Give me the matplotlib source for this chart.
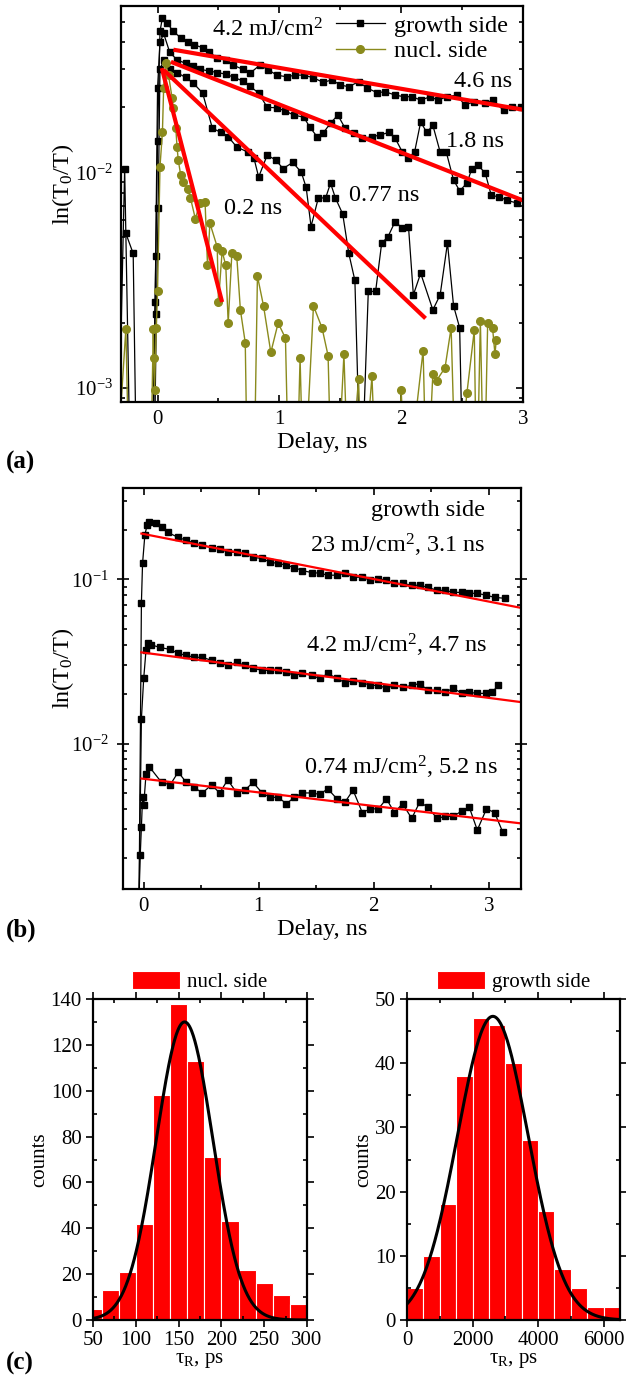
import numpy as np
import matplotlib
matplotlib.use('Agg')
import matplotlib.pyplot as plt
from matplotlib.ticker import MultipleLocator, NullFormatter

plt.rcParams['font.family'] = 'Liberation Serif'
plt.rcParams['mathtext.fontset'] = 'custom'
plt.rcParams['mathtext.rm'] = 'Liberation Serif'
plt.rcParams['mathtext.it'] = 'Liberation Serif:italic'
plt.rcParams['mathtext.bf'] = 'Liberation Serif:bold'

# ---------------- panel (a): 4.2 mJ/cm2, growth side (3 spots) and nucl. side
g1_t = [-0.33, -0.27, -0.22, -0.05, -0.02, 0.0, 0.02, 0.04, 0.08, 0.13, 0.19, 0.25, 0.3, 0.37, 0.42,
        0.49, 0.56, 0.62, 0.7, 0.76, 0.84, 0.91, 0.98, 1.06, 1.13, 1.2, 1.28, 1.36, 1.43, 1.5, 1.57,
        1.65, 1.72, 1.8, 1.87, 1.95, 2.02, 2.09, 2.16, 2.24, 2.3, 2.38, 2.46, 2.52, 2.6, 2.69, 2.75,
        2.84, 2.91, 2.98]
g1_y = [0.0003, 0.0104, 0.0003, 0.0003, 0.0025, 0.014, 0.045, 0.052, 0.049, 0.045, 0.042, 0.040,
        0.039, 0.0378, 0.036, 0.034, 0.033, 0.0314, 0.030, 0.0288, 0.0314, 0.0298, 0.0282, 0.0277,
        0.0282, 0.0282, 0.0274, 0.0261, 0.0268, 0.0254, 0.0249, 0.0263, 0.0246, 0.0234, 0.0236,
        0.0228, 0.0224, 0.0224, 0.0216, 0.0224, 0.0216, 0.0224, 0.0228, 0.0205, 0.0212, 0.0209,
        0.0216, 0.0194, 0.0200, 0.0200]

g2_t = [-0.26, -0.2, -0.17, -0.04, -0.015, 0.0, 0.02, 0.05, 0.1, 0.16, 0.23, 0.29, 0.35, 0.42, 0.49,
        0.56, 0.63, 0.7, 0.76, 0.83, 0.9, 0.98, 1.05, 1.12, 1.2, 1.25, 1.31, 1.36, 1.42, 1.48, 1.54,
        1.61, 1.68, 1.76, 1.83, 1.9, 1.95, 2.01, 2.06, 2.11, 2.16, 2.21, 2.26, 2.32, 2.37, 2.43, 2.48,
        2.54, 2.58, 2.63, 2.69, 2.74, 2.8, 2.87, 2.95]
g2_y = [0.0052, 0.0042, 0.0003, 0.0003, 0.0041, 0.0245, 0.040, 0.044, 0.036, 0.0332, 0.032, 0.031,
        0.030, 0.0295, 0.029, 0.0285, 0.0275, 0.0265, 0.025, 0.0233, 0.020, 0.0199, 0.0192, 0.0184,
        0.018, 0.0162, 0.0146, 0.0152, 0.0169, 0.0184, 0.016, 0.0152, 0.0144, 0.0146, 0.0149, 0.0153,
        0.0144, 0.0124, 0.0117, 0.0124, 0.0171, 0.0153, 0.0165, 0.0124, 0.0124, 0.0092, 0.0082,
        0.0089, 0.0104, 0.0108, 0.0099, 0.0078, 0.0077, 0.0074, 0.0072]

g3_t = [-0.03, -0.01, 0.005, 0.02, 0.05, 0.1, 0.16, 0.23, 0.29, 0.37, 0.45, 0.52, 0.58, 0.65, 0.74,
        0.79, 0.83, 0.9, 0.97, 1.03, 1.11, 1.18, 1.22, 1.26, 1.32, 1.38, 1.42, 1.46, 1.52, 1.57, 1.62,
        1.67, 1.73, 1.79, 1.84, 1.89, 1.95, 2.01, 2.06, 2.1, 2.16, 2.26, 2.32, 2.38, 2.43, 2.48, 2.51]
g3_y = [0.0003, 0.0022, 0.0068, 0.030, 0.033, 0.030, 0.029, 0.0275, 0.026, 0.0233, 0.016, 0.0153,
        0.0146, 0.0131, 0.0124, 0.0117, 0.0095, 0.012, 0.0114, 0.0104, 0.0111, 0.010, 0.0085, 0.0056,
        0.0076, 0.0076, 0.0089, 0.0076, 0.0064, 0.0042, 0.00315, 0.0003, 0.0028, 0.0028, 0.0047,
        0.0050, 0.0059, 0.0055, 0.0056, 0.0027, 0.0034, 0.0023, 0.0027, 0.0047, 0.0024, 0.0019, 0.0003]

nucl_t = [-0.35, -0.26, -0.23, -0.06, -0.035, -0.03, -0.025, -0.01, 0.0, 0.02, 0.04, 0.05, 0.066,
          0.09, 0.12, 0.13, 0.15, 0.16, 0.17, 0.19, 0.21, 0.25, 0.27, 0.31, 0.35, 0.39, 0.41, 0.43,
          0.49, 0.5, 0.53, 0.56, 0.58, 0.61, 0.65, 0.68, 0.72, 0.74, 0.79, 0.82, 0.87, 0.93, 0.99,
          1.05, 1.08, 1.14, 1.17, 1.2, 1.28, 1.35, 1.4, 1.43, 1.47, 1.53, 1.57, 1.65, 1.68, 1.76,
          1.8, 1.97, 2.0, 2.04, 2.18, 2.21, 2.26, 2.29, 2.36, 2.41, 2.45, 2.54, 2.6, 2.62, 2.65,
          2.68, 2.71, 2.75, 2.77, 2.78]
nucl_y = [0.0003, 0.00188, 0.0003, 0.0003, 0.00188, 0.00137, 0.00098, 0.0019, 0.0028, 0.0106,
          0.0153, 0.0245, 0.032, 0.0282, 0.022, 0.0199, 0.016, 0.0131, 0.0114, 0.0097, 0.0090,
          0.0084, 0.0076, 0.0061, 0.0072, 0.0073, 0.0037, 0.0058, 0.0045, 0.0025, 0.0043, 0.0037,
          0.0020, 0.0042, 0.0041, 0.0023, 0.00162, 0.0003, 0.0003, 0.0033, 0.0024, 0.00146, 0.0020,
          0.0017, 0.0003, 0.0003, 0.00138, 0.0003, 0.0024, 0.0019, 0.00141, 0.0003, 0.0003, 0.00143,
          0.0003, 0.0011, 0.0003, 0.00113, 0.0003, 0.0003, 0.00098, 0.0003, 0.00149, 0.0003, 0.00116,
          0.00108, 0.00124, 0.0019, 0.0003, 0.00095, 0.00185, 0.0003, 0.00205, 0.0003, 0.0020,
          0.0019, 0.00143, 0.00166]

# exponential fits (start / end of the drawn lines)
fit_a_labels = ['4.6 ns', '1.8 ns', '0.77 ns', '0.2 ns']
fit_a_t = [(0.13, 3.0), (0.11, 3.0), (0.05, 2.2), (0.035, 0.53)]
fit_a_y = [(0.037, 0.0195), (0.0325, 0.0074), (0.0298, 0.0021), (0.0304, 0.0025)]
fit_a_text_pos = [(2.67, 0.0263), (2.61, 0.0139), (1.86, 0.0078), (0.78, 0.0068)]

# ---------------- panel (b): growth side, three fluences
b_top_t = [-0.04, -0.02, -0.01, 0.01, 0.03, 0.05, 0.11, 0.16, 0.21, 0.3, 0.37, 0.44, 0.51, 0.59,
           0.66, 0.73, 0.81, 0.88, 0.95, 1.03, 1.1, 1.17, 1.24, 1.31, 1.38, 1.46, 1.53, 1.6, 1.68,
           1.75, 1.82, 1.9, 1.97, 2.04, 2.11, 2.18, 2.25, 2.33, 2.4, 2.47, 2.55, 2.62, 2.69, 2.77,
           2.83, 2.9, 2.98, 3.05, 3.14]
b_top_y = [0.0012, 0.072, 0.125, 0.186, 0.215, 0.223, 0.22, 0.207, 0.193, 0.18, 0.173, 0.166,
           0.161, 0.156, 0.154, 0.146, 0.146, 0.144, 0.136, 0.134, 0.127, 0.125, 0.122, 0.118,
           0.113, 0.110, 0.109, 0.106, 0.106, 0.109, 0.103, 0.103, 0.0986, 0.101, 0.0986, 0.0945,
           0.0945, 0.092, 0.092, 0.0894, 0.0857, 0.0857, 0.0833, 0.0833, 0.0822, 0.0822, 0.0799,
           0.0777, 0.0766]

b_mid_t = [-0.04, -0.02, 0.0, 0.02, 0.035, 0.06, 0.14, 0.23, 0.3, 0.37, 0.44, 0.51, 0.59, 0.66,
           0.73, 0.81, 0.88, 0.95, 1.03, 1.1, 1.17, 1.24, 1.31, 1.38, 1.46, 1.53, 1.6, 1.68, 1.75,
           1.82, 1.9, 1.97, 2.04, 2.11, 2.18, 2.25, 2.33, 2.4, 2.47, 2.55, 2.62, 2.69, 2.77, 2.83,
           2.9, 2.98, 3.03, 3.08]
b_mid_y = [0.0012, 0.0142, 0.0249, 0.037, 0.041, 0.040, 0.0385, 0.0374, 0.0354, 0.0344, 0.0335,
           0.0335, 0.0321, 0.0308, 0.0299, 0.0312, 0.0299, 0.0287, 0.0279, 0.0279, 0.0279, 0.0271,
           0.0260, 0.0267, 0.0260, 0.0249, 0.0267, 0.0249, 0.0235, 0.0242, 0.0235, 0.0226, 0.0226,
           0.0217, 0.0226, 0.022, 0.0226, 0.0232, 0.0211, 0.0211, 0.0205, 0.0217, 0.0202, 0.0205,
           0.0202, 0.0202, 0.0205, 0.0226]

b_low_t = [-0.04, -0.03, -0.02, -0.01, 0.0, 0.02, 0.05, 0.155, 0.23, 0.3, 0.37, 0.44, 0.51, 0.59,
           0.66, 0.73, 0.81, 0.88, 0.95, 1.03, 1.1, 1.17, 1.24, 1.31, 1.38, 1.46, 1.53, 1.6, 1.68,
           1.75, 1.82, 1.9, 1.97, 2.04, 2.11, 2.18, 2.25, 2.33, 2.4, 2.47, 2.55, 2.62, 2.69, 2.77,
           2.83, 2.9, 2.98, 3.05, 3.12]
b_low_y = [0.0012, 0.0021, 0.0031, 0.0047, 0.0042, 0.0065, 0.0072, 0.0058, 0.0056, 0.0067, 0.0058,
           0.0054, 0.0050, 0.0056, 0.0050, 0.0060, 0.0050, 0.0052, 0.0058, 0.0050, 0.0047, 0.0047,
           0.0043, 0.0047, 0.0050, 0.0050, 0.0049, 0.0053, 0.0046, 0.0044, 0.0052, 0.0038, 0.0040,
           0.0040, 0.0046, 0.0038, 0.0043, 0.0035, 0.0044, 0.0041, 0.0035, 0.0036, 0.0036, 0.0039,
           0.0041, 0.00297, 0.0040, 0.0038, 0.0029]

fit_b_t = (-0.02, 3.3)
fit_b_y = [(0.19, 0.0666), (0.0359, 0.0178), (0.00612, 0.00325)]
b_labels = ['23 mJ/cm$^2$, 3.1 ns', '4.2 mJ/cm$^2$, 4.7 ns', '0.74 mJ/cm$^2$, 5.2 ns']
b_label_pos = [(2.97, 0.161), (2.99, 0.0396), (3.08, 0.00715)]

# ---------------- panel (c): histograms of tau_R
nucl_bin_left = [40, 60, 80, 100, 120, 140, 160, 180, 200, 220, 240, 260, 280]
nucl_counts = [5, 13, 21, 42, 98, 138, 113, 71, 43, 22, 16, 11, 7]
nucl_gauss = dict(xc=157, sigma=33, amp=130)

growth_bin_left = [0, 500, 1000, 1500, 2000, 2500, 3000, 3500, 4000, 4500, 5000, 5500, 6000]
growth_counts = [5, 10, 18, 38, 47, 46, 40, 28, 17, 8, 5, 2, 2]
growth_gauss = dict(xc=2620, sigma=1080, amp=47.3)

olive = '#8a8a1c'
FS_TXT = 17.5
FS_TICK = 15
W, H = 626, 1383
fig = plt.figure(figsize=(W / 100, H / 100), dpi=100)


def px_axes(l, r, t, b):
    return fig.add_axes([l / W, 1 - b / H, (r - l) / W, (b - t) / H])


def style(ax, fs):
    for s in ax.spines.values():
        s.set_linewidth(1.6)
    ax.tick_params(which='both', direction='in', top=True, right=True, labelsize=fs, width=1.2, pad=6)
    ax.tick_params(which='major', length=5)
    ax.tick_params(which='minor', length=3)


# ----- (a)
ax = px_axes(121, 523, 6, 402)
ax.set_yscale('log')
ax.plot(g1_t, g1_y, '-s', color='black', lw=0.9, ms=5, label='growth side')
ax.plot(g2_t, g2_y, '-s', color='black', lw=0.9, ms=5)
ax.plot(g3_t, g3_y, '-s', color='black', lw=0.9, ms=5)
ax.plot(nucl_t, nucl_y, '-o', color=olive, lw=1.0, ms=5.5, label='nucl. side')
for ft, fy in zip(fit_a_t, fit_a_y):
    ax.plot(ft, fy, color='red', lw=3, solid_capstyle='butt')
for lab, (tx, ty) in zip(fit_a_labels, fit_a_text_pos):
    ax.text(tx, ty, lab, ha='center', va='center', fontsize=FS_TXT)
ax.text(0.45, 0.0457, '4.2 mJ/cm$^2$', ha='left', va='center', fontsize=FS_TXT)
ax.set_xlim(-0.3, 3.0)
ax.set_ylim(0.00086, 0.059)
ax.xaxis.set_major_locator(MultipleLocator(1))
ax.xaxis.set_minor_locator(MultipleLocator(0.5))
ax.yaxis.set_minor_formatter(NullFormatter())
style(ax, FS_TICK)
ax.set_xlabel('Delay, ns', fontsize=FS_TXT, labelpad=2)
ax.set_ylabel('ln(T$_0$/T)', fontsize=FS_TXT)
ax.yaxis.set_label_coords(-0.113, 0.55)
ax.legend(loc='upper right', bbox_to_anchor=(1.0, 1.015), frameon=False, fontsize=FS_TXT,
          numpoints=1, handlelength=2.0, handletextpad=0.4, labelspacing=0.15, borderaxespad=0.2)

# ----- (b)
ax = px_axes(123, 521, 488, 889)
ax.set_yscale('log')
for bt, by in [(b_top_t, b_top_y), (b_mid_t, b_mid_y), (b_low_t, b_low_y)]:
    ax.plot(bt, by, '-s', color='black', lw=0.9, ms=4.5)
for fy in fit_b_y:
    ax.plot(fit_b_t, fy, color='red', lw=1.6)
ax.text(2.97, 0.264, 'growth side', ha='right', va='center', fontsize=FS_TXT)
for lab, (tx, ty) in zip(b_labels, b_label_pos):
    ax.text(tx, ty, lab, ha='right', va='center', fontsize=FS_TXT)
ax.set_xlim(-0.18, 3.28)
ax.set_ylim(0.0013, 0.36)
ax.xaxis.set_major_locator(MultipleLocator(1))
ax.xaxis.set_minor_locator(MultipleLocator(0.5))
ax.yaxis.set_minor_formatter(NullFormatter())
style(ax, FS_TICK)
ax.tick_params(axis='y', which='major', direction='inout', length=8)
ax.set_xlabel('Delay, ns', fontsize=FS_TXT, labelpad=2)
ax.set_ylabel('ln(T$_0$/T)', fontsize=FS_TXT)
ax.yaxis.set_label_coords(-0.118, 0.55)


# ----- (c)
def hist_panel(l, r, lefts, counts, width, g, label, xlim, ylim, xmaj, xmin, ymaj, ymin):
    ax = px_axes(l, r, 999, 1320)
    ax.bar(lefts, counts, width=width, align='edge', color='#ff0000', edgecolor='white',
           linewidth=0.8, label=label)
    xx = np.linspace(xlim[0], xlim[1], 400)
    ax.plot(xx, g['amp'] * np.exp(-(xx - g['xc']) ** 2 / (2 * g['sigma'] ** 2)), color='black', lw=2.2)
    ax.set_xlim(*xlim)
    ax.set_ylim(*ylim)
    ax.xaxis.set_major_locator(MultipleLocator(xmaj))
    ax.xaxis.set_minor_locator(MultipleLocator(xmin))
    ax.yaxis.set_major_locator(MultipleLocator(ymaj))
    ax.yaxis.set_minor_locator(MultipleLocator(ymin))
    style(ax, 15)
    ax.tick_params(which='major', direction='out', pad=3)
    ax.set_xlabel('τ$_\\mathrm{R}$, ps', fontsize=15, labelpad=1)
    ax.set_ylabel('counts', fontsize=15, labelpad=1)
    ax.legend(loc='lower center', bbox_to_anchor=(0.5, 0.99), frameon=False, fontsize=15,
              handlelength=2.3, handleheight=0.95, handletextpad=0.35, borderaxespad=0.1)
    return ax


hist_panel(93, 307, nucl_bin_left, nucl_counts, 20, nucl_gauss, 'nucl. side',
           (50, 300), (0, 140), 50, 25, 20, 10)
hist_panel(407, 620, growth_bin_left, growth_counts, 500, growth_gauss, 'growth side',
           (0, 6500), (0, 50), 2000, 1000, 10, 5)

for lab, ypx in [('(a)', 462), ('(b)', 930), ('(c)', 1363)]:
    fig.text(6 / W, 1 - ypx / H, lab, fontsize=18, fontweight='bold', va='center', ha='left')

fig.savefig('out.png', dpi=100)
